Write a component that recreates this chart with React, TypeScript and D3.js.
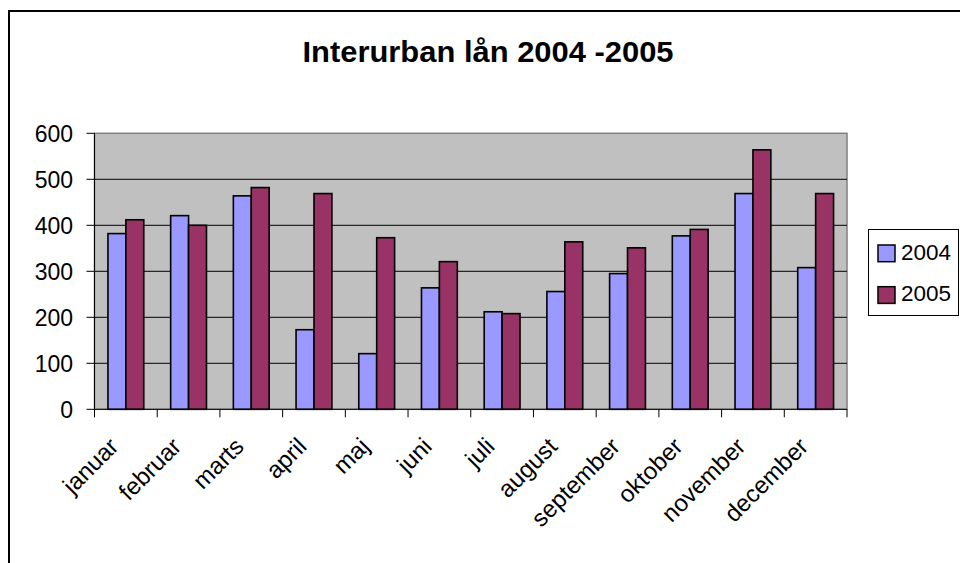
import React from "react";
import * as d3 from "d3";

const months = ["januar","februar","marts","april","maj","juni","juli","august","september","oktober","november","december"];
const series2004 = [382, 421, 464, 173, 121, 264, 212, 256, 295, 377, 469, 308];
const series2005 = [412, 400, 482, 469, 373, 321, 208, 364, 351, 391, 564, 469];
const seriesNames = ["2004", "2005"];
const seriesColors = ["#9999ff", "#993366"];
const yTicks = [0, 100, 200, 300, 400, 500, 600];
const title = "Interurban lån 2004 -2005";

const W = 960, H = 563;
const left = 94.5, right = 847, top = 133.3, bottom = 409.3;
const font = "Arial, 'Liberation Sans', sans-serif";

export default function App() {
  const x = d3.scaleBand<string>().domain(months).range([left, right]).paddingInner(0).paddingOuter(0);
  const y = d3.scaleLinear().domain([0, 600]).range([bottom, top]);
  const bw = x.bandwidth() / 3.5;
  const gap = bw * 0.75;
  const all = [series2004, series2005];
  const boundaries = d3.range(months.length + 1).map((i) => left + i * x.bandwidth());

  return (
    <svg width={W} height={H} style={{ position: "fixed", left: 0, top: 0, background: "#fff" }} fontFamily={font}>
      <rect x={0} y={0} width={W} height={H} fill="#fff" />
      <rect x={9} y={11} width={1000} height={1000} fill="none" stroke="#000" strokeWidth={2} />
      <text x={488} y={62} textAnchor="middle" fontSize={29} fontWeight="bold" textLength={371} lengthAdjust="spacingAndGlyphs">{title}</text>

      <rect x={left} y={top} width={right - left} height={bottom - top} fill="#c0c0c0" stroke="#808080" strokeWidth={1.5} />
      {yTicks.filter((t) => t > 0 && t < 600).map((t) => (
        <line key={t} x1={left} x2={right} y1={y(t)} y2={y(t)} stroke="#000" strokeWidth={1} />
      ))}

      {all.map((s, si) =>
        s.map((v, i) => (
          <rect key={si + "-" + i}
            x={(x(months[i]) as number) + gap + si * bw}
            y={y(v)}
            width={bw}
            height={y(0) - y(v)}
            fill={seriesColors[si]}
            stroke="#000"
            strokeWidth={1.6} />
        ))
      )}

      <line x1={left} x2={left} y1={top} y2={bottom} stroke="#000" strokeWidth={1} />
      <line x1={left} x2={right} y1={bottom} y2={bottom} stroke="#000" strokeWidth={1} />
      {yTicks.map((t) => (
        <g key={t}>
          <line x1={left - 8} x2={left} y1={y(t)} y2={y(t)} stroke="#000" strokeWidth={1} />
          <text x={73} y={y(t)} dy="0.36em" textAnchor="end" fontSize={23}>{t}</text>
        </g>
      ))}
      {boundaries.map((b, i) => (
        <line key={i} x1={b} x2={b} y1={bottom} y2={bottom + 8} stroke="#000" strokeWidth={1} />
      ))}
      {months.map((m) => {
        const cx = (x(m) as number) + x.bandwidth() / 2 - 6;
        const cy = 448;
        return (
          <text key={m} x={cx} y={cy} textAnchor="end" fontSize={24} transform={`rotate(-45 ${cx} ${cy})`}>{m}</text>
        );
      })}

      <rect x={868.5} y={229.5} width={90} height={86} fill="#fff" stroke="#000" strokeWidth={1} />
      {seriesNames.map((n, i) => (
        <g key={n}>
          <rect x={878} y={245 + i * 41.7} width={17} height={16.7} fill={seriesColors[i]} stroke="#000" strokeWidth={1.5} />
          <text x={901} y={259.5 + i * 41.7} fontSize={22} textLength={50} lengthAdjust="spacingAndGlyphs">{n}</text>
        </g>
      ))}
    </svg>
  );
}
